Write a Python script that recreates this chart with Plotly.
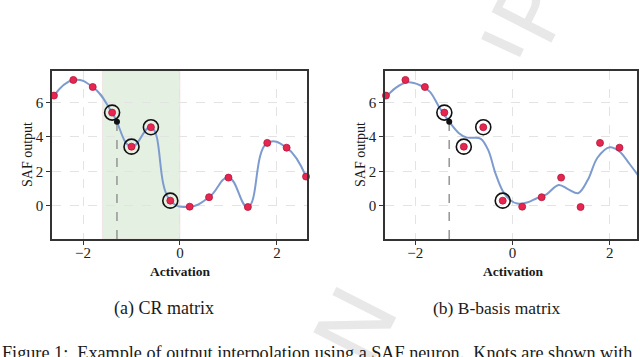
import plotly.graph_objects as go

# knots of the SAF neuron (same in both panels)
knots_x = [-2.6, -2.2, -1.8, -1.4, -1.0, -0.6, -0.2, 0.2, 0.6, 1.0, 1.4, 1.8, 2.2, 2.6]
knots_y = [6.4, 7.31, 6.9, 5.41, 3.43, 4.56, 0.29, -0.06, 0.49, 1.63, -0.08, 3.65, 3.37, 1.69]

# knots that take part in the interpolation of the query point
active_x = [-1.4, -1.0, -0.6, -0.2]
active_y = [5.41, 3.43, 4.56, 0.29]

# query point
query_x = [-1.3]
query_y = [4.88]

# B-basis curve
bbasis_x = [-2.62, -2.4, -2.15, -1.9, -1.7, -1.5, -1.3, -1.1, -0.95, -0.8, -0.65, -0.5,
            -0.35, -0.2, -0.05, 0.1, 0.3, 0.5, 0.7, 0.95, 1.15, 1.35, 1.55, 1.75, 2.0,
            2.2, 2.4, 2.6]
bbasis_y = [6.24, 6.85, 7.17, 7.0, 6.63, 5.7, 4.88, 4.21, 3.97, 3.95, 3.88, 3.24,
            1.88, 0.85, 0.33, 0.12, 0.18, 0.43, 0.66, 1.2, 0.95, 0.72, 1.5, 2.8, 3.4,
            3.15, 2.45, 1.69]

# green band of panel (a)
band = [-1.6, 0.0]

x_ticks = [-2, 0, 2]
x_labels = ["\u22122", "0", "2"]
y_ticks = [0, 2, 4, 6]
y_range = [-1.94, 7.83]

W, H = 640, 357
SERIF = "Liberation Serif"
RED = "#e6264f"
BLUE = "#7e9bcf"
WM = "#e8e8e8"


def px(x, y):
    return x / W, 1 - y / H


fig = go.Figure()

panels = [("x", "y"), ("x2", "y2")]

for i, (xa, ya) in enumerate(panels):
    if i == 0:
        fig.add_trace(go.Scatter(x=knots_x, y=knots_y, mode="lines",
                                 line=dict(color=BLUE, width=2, shape="spline", smoothing=1.3),
                                 xaxis=xa, yaxis=ya, hoverinfo="skip"))
    else:
        fig.add_trace(go.Scatter(x=bbasis_x, y=bbasis_y, mode="lines",
                                 line=dict(color=BLUE, width=2, shape="spline", smoothing=1.0),
                                 xaxis=xa, yaxis=ya, hoverinfo="skip"))
    # dashed drop line to the query point
    fig.add_trace(go.Scatter(x=query_x * 2, y=[y_range[0], query_y[0]], mode="lines",
                             line=dict(color="#9a9a9a", width=1.6, dash="dash"),
                             xaxis=xa, yaxis=ya, hoverinfo="skip"))
    fig.add_trace(go.Scatter(x=active_x, y=active_y, mode="markers",
                             marker=dict(symbol="circle-open", size=15, color="#111",
                                         line=dict(width=1.6)),
                             xaxis=xa, yaxis=ya, cliponaxis=False, hoverinfo="skip"))
    fig.add_trace(go.Scatter(x=knots_x, y=knots_y, mode="markers",
                             marker=dict(size=7, color=RED, line=dict(color="#b3173c", width=0.8)),
                             xaxis=xa, yaxis=ya, cliponaxis=False, hoverinfo="skip"))
    fig.add_trace(go.Scatter(x=query_x, y=query_y, mode="markers",
                             marker=dict(size=6, color="#111"),
                             xaxis=xa, yaxis=ya, cliponaxis=False, hoverinfo="skip"))

fig.add_shape(type="rect", xref="x", yref="y domain", x0=band[0], x1=band[1], y0=0, y1=1,
              fillcolor="#e4f0e2", line=dict(color="rgba(240,195,205,0.3)", width=1),
              layer="below")

# watermark stroke ("l") peeking out above panel (b)
x0, y0 = px(483, 35)
x1, y1 = px(522, 53)
fig.add_shape(type="line", xref="paper", yref="paper", x0=x0, y0=y0, x1=x1, y1=y1,
              line=dict(color=WM, width=9), layer="below")

axis_common = dict(showline=True, mirror=True, linecolor="#333", linewidth=1.5,
                   ticks="outside", ticklen=4, tickcolor="#333",
                   showgrid=True, gridcolor="#e3e3e3", griddash="dash", gridwidth=1,
                   zeroline=False, tickfont=dict(family=SERIF, size=15, color="#222"))

ydom = [1 - 239 / H, 1 - 71 / H]
fig.update_layout(
    xaxis=dict(domain=[52 / W, 307 / W], range=[-2.64, 2.62], anchor="y",
               tickvals=x_ticks, ticktext=x_labels, ticklabelstandoff=-5, **axis_common),
    yaxis=dict(domain=ydom, range=y_range, anchor="x", tickvals=y_ticks, **axis_common),
    xaxis2=dict(domain=[385 / W, 637 / W], range=[-2.62, 2.56], anchor="y2",
                tickvals=x_ticks, ticktext=x_labels, ticklabelstandoff=-5, **axis_common),
    yaxis2=dict(domain=ydom, range=y_range, anchor="x2", tickvals=y_ticks, **axis_common),
)

# watermark letters (drawn first so that the caption text lies on top)
for ch, cx, cy in [("P", 531, 12), ("N", 356, 326)]:
    ax, ay = px(cx, cy)
    fig.add_annotation(x=ax, y=ay, xref="paper", yref="paper", text=ch, showarrow=False,
                       textangle=-63, xanchor="center", yanchor="middle",
                       font=dict(family="DejaVu Sans", size=92, color=WM))

notes = [
    (180, 271, "<b>Activation</b>", 13.5, 0),
    (513, 271, "<b>Activation</b>", 13.5, 0),
    (27, 155, "SAF output", 14, -90),
    (360, 155, "SAF output", 14, -90),
    (164, 308, "(a) CR matrix", 18, 0),
    (497, 308, "(b) B-basis matrix", 17.5, 0),
]
for nx, ny, txt, size, ang in notes:
    ax, ay = px(nx, ny)
    fig.add_annotation(x=ax, y=ay, xref="paper", yref="paper", text=txt,
                       showarrow=False, textangle=ang, xanchor="center", yanchor="middle",
                       font=dict(family=SERIF, size=size, color="#1a1a1a"))

fig.add_annotation(x=0, y=1 - 341 / H, xref="paper", yref="paper", xanchor="left", yanchor="top",
                   text="Figure 1:  Example of output interpolation using a SAF neuron.  Knots are shown with",
                   showarrow=False, font=dict(family=SERIF, size=18.2, color="#1a1a1a"))

fig.update_layout(width=W, height=H, margin=dict(l=0, r=0, t=0, b=0),
                  paper_bgcolor="white", plot_bgcolor="white", showlegend=False)

fig.write_html("out.html", config={"displayModeBar": False},
               post_script="document.body.style.margin='0';document.body.style.overflow='hidden';")
